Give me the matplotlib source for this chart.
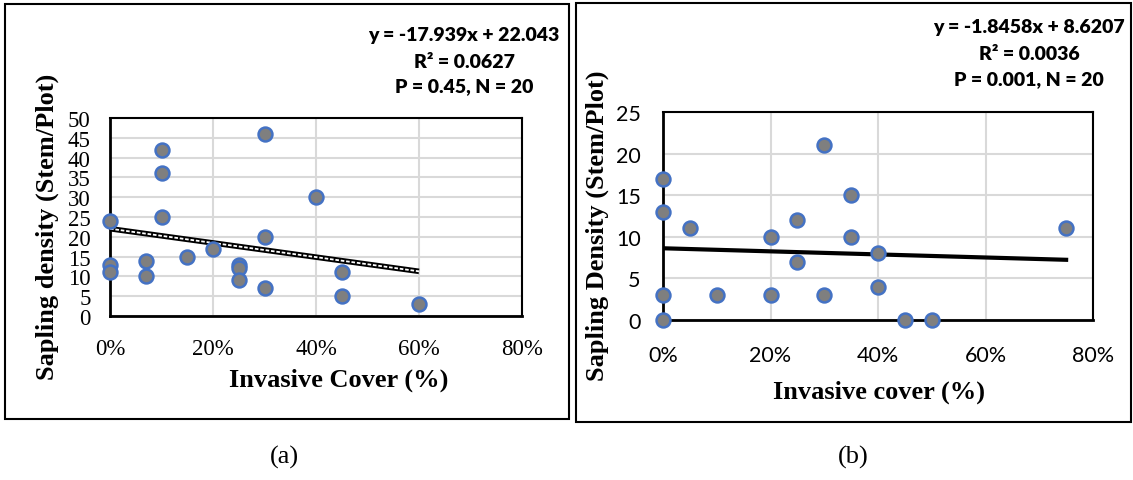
import matplotlib.pyplot as plt
from matplotlib.patches import Rectangle
import numpy as np

# panel (a): sapling density vs invasive cover
cover_a = [0.0, 0.0, 0.0, 0.07, 0.07, 0.10, 0.10, 0.10, 0.15, 0.20,
           0.25, 0.25, 0.25, 0.30, 0.30, 0.30, 0.40, 0.45, 0.45, 0.60]
density_a = [24, 13, 11, 14, 10, 42, 36, 25, 15, 17,
             13, 12, 9, 46, 20, 7, 30, 11, 5, 3]
slope_a, icpt_a = -17.939, 22.043
stats_a = ["y = -17.939x + 22.043", "R² = 0.0627", "P = 0.45, N = 20"]

# panel (b)
cover_b = [0.0, 0.0, 0.0, 0.0, 0.05, 0.10, 0.20, 0.20, 0.25, 0.25,
           0.30, 0.30, 0.35, 0.35, 0.40, 0.40, 0.45, 0.50, 0.75]
density_b = [17, 13, 3, 0, 11, 3, 10, 3, 12, 7,
             21, 3, 15, 10, 8, 4, 0, 0, 11]
slope_b, icpt_b = -1.8458, 8.6207
stats_b = ["y = -1.8458x + 8.6207", "R² = 0.0036", "P = 0.001, N = 20"]

xticks = [0, 0.2, 0.4, 0.6, 0.8]
xticklabels = ["0%", "20%", "40%", "60%", "80%"]

W, H = 1133, 481
fig = plt.figure(figsize=(W / 100, H / 100), dpi=100)

def px(x0, y0, x1, y1):
    # pixel box (top-left origin) -> figure fraction rect
    return [x0 / W, 1 - y1 / H, (x1 - x0) / W, (y1 - y0) / H]

serif = "Liberation Serif"
sans = "Lato"

def style_axes(ax, ymax, ystep, tickfont, ticksize, ypad, xpad):
    ax.set_xlim(0, 0.8)
    ax.set_ylim(0, ymax)
    ax.set_xticks(xticks)
    ax.set_xticklabels(xticklabels, family=tickfont, fontsize=ticksize)
    ax.set_yticks(np.arange(0, ymax + 1, ystep))
    for t in ax.get_yticklabels():
        t.set_family(tickfont)
        t.set_fontsize(ticksize)
    ax.tick_params(length=0)
    ax.tick_params(axis="y", pad=ypad)
    ax.tick_params(axis="x", pad=xpad)
    ax.grid(True, color="#d9d9d9", lw=1.5)
    ax.set_axisbelow(True)
    for s in ax.spines.values():
        s.set_color("black")
        s.set_linewidth(1.5)
    ax.spines["left"].set_linewidth(2)
    ax.spines["bottom"].set_linewidth(2)

def stats_block(lines, xc, ys):
    for txt, y in zip(lines, ys):
        fig.text(xc / W, 1 - y / H, txt, ha="center", va="center", family=sans,
                 fontweight="heavy", fontsize=14)

# ---- (a) ----
ax1 = fig.add_axes(px(110, 119, 522, 317))
style_axes(ax1, 50, 5, serif, 16.5, 14, 16)
xa = np.array([0, max(cover_a)])
ax1.plot(xa, slope_a * xa + icpt_a, color="black", lw=4, solid_capstyle="butt", zorder=3)
ax1.plot(xa, slope_a * xa + icpt_a, color="white", lw=1.3, ls=(0, (2, 1)), zorder=3.1)
ax1.plot(cover_a, density_a, "o", ms=10, mfc="#7f7f7f", mec="#4472c4", mew=1.8,
         clip_on=False, zorder=4)
stats_block(stats_a, 464, [35, 62, 87])
fig.text(47 / W, 1 - 227 / H, "Sapling density (Stem/Plot)", rotation=90,
         ha="center", va="center", family=serif, fontweight="bold", fontsize=19)
fig.text(339 / W, 1 - 380 / H, "Invasive Cover (%)", ha="center", va="center",
         family=serif, fontweight="bold", fontsize=19)

# ---- (b) ----
ax2 = fig.add_axes(px(663, 113, 1093, 321))
style_axes(ax2, 25, 5, sans, 15.5, 16, 18)
xb = np.array([0, max(cover_b)])
ax2.plot(xb, slope_b * xb + icpt_b, color="black", lw=3, zorder=3)
ax2.plot(cover_b, density_b, "o", ms=10, mfc="#7f7f7f", mec="#4472c4", mew=1.8,
         clip_on=False, zorder=4)
stats_block(stats_b, 1029, [28, 55, 80])
fig.text(597 / W, 1 - 226 / H, "Sapling Density (Stem/Plot)", rotation=90,
         ha="center", va="center", family=serif, fontweight="bold", fontsize=19)
fig.text(879 / W, 1 - 392 / H, "Invasive cover (%)", ha="center", va="center",
         family=serif, fontweight="bold", fontsize=19)

# outer frames and captions
for x0, y0, x1, y1 in [(5, 5, 569, 420), (576, 4, 1131, 423)]:
    fig.patches.append(Rectangle((x0 / W, 1 - y1 / H), (x1 - x0) / W, (y1 - y0) / H,
                                 transform=fig.transFigure, fill=False,
                                 edgecolor="black", lw=1.5))
fig.text(284 / W, 1 - 457 / H, "(a)", ha="center", va="center", family=serif, fontsize=19)
fig.text(853 / W, 1 - 457 / H, "(b)", ha="center", va="center", family=serif, fontsize=19)

fig.savefig("out.png", dpi=100)
